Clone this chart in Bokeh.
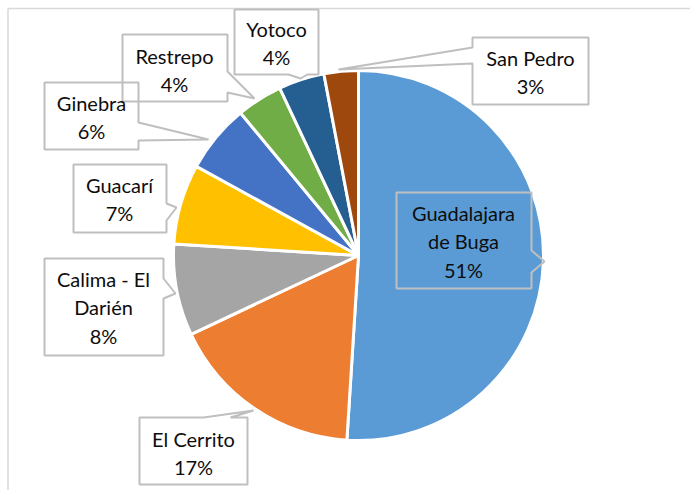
import math
from bokeh.plotting import figure
from bokeh.models import Range1d, ColumnDataSource
from bokeh.core.properties import value
from bokeh.embed import file_html
from bokeh.resources import INLINE

# ---- data ----
categories = ["Guadalajara de Buga", "El Cerrito", "Calima - El Darién", "Guacarí",
              "Ginebra", "Restrepo", "Yotoco", "San Pedro"]
shares = [51, 17, 8, 7, 6, 4, 4, 3]
colors = ["#5B9BD5", "#ED7D31", "#A5A5A5", "#FFC000", "#4472C4", "#70AD47", "#255E91", "#9E480E"]

# ---- layout (screen px, y downwards) ----
W, H = 690, 490
CX, CY, R = 358, 255, 185
label_lines = {
    "Guadalajara de Buga": ["Guadalajara", "de Buga"],
    "El Cerrito": ["El Cerrito"],
    "Calima - El Darién": ["Calima - El", "Darién"],
    "Guacarí": ["Guacarí"],
    "Ginebra": ["Ginebra"],
    "Restrepo": ["Restrepo"],
    "Yotoco": ["Yotoco"],
    "San Pedro": ["San Pedro"],
}
# callout outlines: list of (x, y)
callouts = {
    "Guadalajara de Buga": [(396,192),(531,192),(531,250),(544,261),(531,272),(531,288),(396,288)],
    "El Cerrito": [(139,417),(203,417),(253,410),(230,417),(247,417),(247,484),(139,484)],
    "Calima - El Darién": [(44,258),(163,258),(163,278),(175,293),(163,298),(163,355),(44,355)],
    "Guacarí": [(73,164),(166,164),(166,203),(176,207),(166,220),(166,232),(73,232)],
    "Ginebra": [(44,82),(138,82),(138,122),(208,139),(138,140),(138,149),(44,149)],
    "Restrepo": [(122,34),(227,34),(227,71),(254,98),(227,92),(227,101),(122,101)],
    "Yotoco": [(234,9),(318,9),(318,74),(307,74),(300,78),(288,74),(234,74)],
    "San Pedro": [(472,37),(588,37),(588,104),(472,104),(472,63),(338,69),(472,47)],
}
text_pos = {  # center x, first line center y
    "Guadalajara de Buga": (463, 212),
    "El Cerrito": (193, 438),
    "Calima - El Darién": (103, 278),
    "Guacarí": (119, 184),
    "Ginebra": (91, 102),
    "Restrepo": (174, 55),
    "Yotoco": (276, 28),
    "San Pedro": (530, 57),
}
LINE_H = 28.5

p = figure(width=W, height=H, x_range=Range1d(0, W), y_range=Range1d(H, 0),
           output_backend="svg", toolbar_location=None, min_border=0)
p.axis.visible = False
p.grid.visible = False
p.outline_line_color = None
p.background_fill_color = "white"
p.border_fill_color = "white"

# chart frame (top and left edges)
p.segment(x0=[7.5, 7.5], y0=[8, 8], x1=[W, 7.5], y1=[8, H],
          line_color="#D9D9D9", line_width=1.5)

# pie
total = sum(shares)
starts, ends = [], []
acc = 0.0
for v in shares:
    a0 = math.pi / 2 - 2 * math.pi * acc / total
    acc += v
    a1 = math.pi / 2 - 2 * math.pi * acc / total
    starts.append(a0)
    ends.append(a1)
src = ColumnDataSource(dict(x=[CX] * len(shares), y=[CY] * len(shares),
                            start=starts, end=ends, color=colors))
p.wedge(x="x", y="y", radius=R, start_angle="start", end_angle="end",
        direction="clock", fill_color="color", line_color="white", line_width=3, source=src)

# callouts
p.patches(xs=[[pt[0] for pt in callouts[c]] for c in categories],
          ys=[[pt[1] for pt in callouts[c]] for c in categories],
          fill_color=None, line_color="#BFBFBF", line_width=2)

# label texts
tx, ty, tt = [], [], []
for c, v in zip(categories, shares):
    lines = label_lines[c] + [f"{round(v)}%"]
    x0, y0 = text_pos[c]
    for i, ln in enumerate(lines):
        tx.append(x0)
        ty.append(y0 + i * LINE_H)
        tt.append(ln)
p.text(x=tx, y=ty, text=tt, text_align="center", text_baseline="middle",
       text_font=value("Lato"), text_font_size="20px", text_color="#0D0D0D")

open("out.html", "w").write(file_html(p, INLINE))
